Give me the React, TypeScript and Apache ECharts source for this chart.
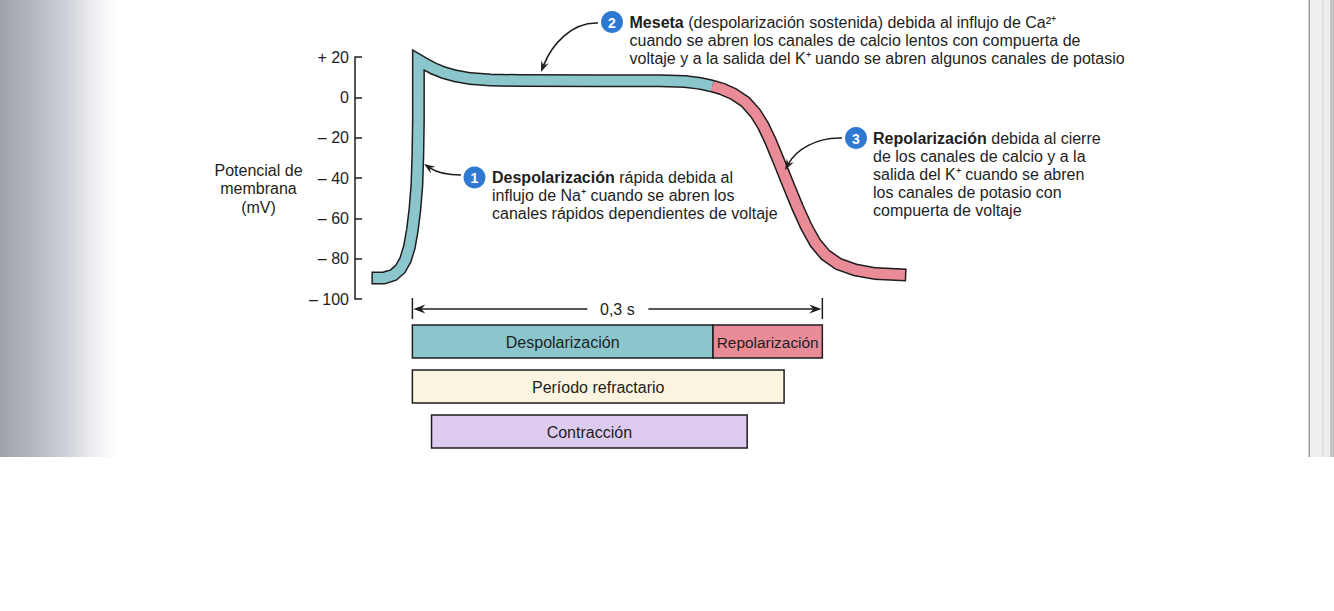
import React, { useEffect, useRef } from "react";
import * as echarts from "echarts";

const FONT = "'Liberation Sans', Arial, Helvetica, sans-serif";

// Y axis ticks (mV)
const yTickValues = [20, 0, -20, -40, -60, -80, -100];
const yTickLabels = ["+ 20", "0", "– 20", "– 40", "– 60", "– 80", "– 100"];
const yAxisTitle = ["Potencial de", "membrana", "(mV)"];

// Action potential curve (time in s, membrane potential in mV)
const curveTime = [
  -0.03, -0.0208, -0.0139, -0.0088, -0.0051, -0.0022, 0.0, 0.0018, 0.0033, 0.004,
  0.0044, 0.0044, 0.0044, 0.0095, 0.0154, 0.0227, 0.0315, 0.0424, 0.0571, 0.079,
  0.1372, 0.1811, 0.1994, 0.2107, 0.2195, 0.2268, 0.2349, 0.2437, 0.251, 0.2568,
  0.262, 0.2678, 0.2751, 0.2817, 0.2883, 0.2949, 0.3022, 0.3117, 0.3241, 0.3388, 0.3615,
];
const curveMv = [
  -89.6, -89.6, -88.1, -85.1, -80.6, -74.2, -65.7, -55.8, -43.4, -28.6,
  -11.2, 3.6, 18.5, 16.5, 14.3, 12.3, 10.6, 9.3, 8.6, 8.3,
  8.2, 8.2, 7.8, 6.9, 5.6, 4.1, 1.7, -2.3, -7.8, -14.2,
  -21.6, -31.1, -43.4, -54.3, -64.2, -72.2, -78.1, -82.6, -85.6, -87.4, -88.1,
];
const repolStartIndex = 24;

// Phase bars (time spans in s)
const phaseNames = ["Despolarización", "Repolarización", "Período refractario", "Contracción"];
const phaseStart = [0, 0.22, 0, 0.014];
const phaseEnd = [0.22, 0.3, 0.272, 0.245];
const phaseRow = [0, 0, 1, 2];
const phaseRows = ["potencial", "refractario", "contraccion"];

// Duration span
const spanStart = 0;
const spanEnd = 0.3;
const spanLabel = "0,3 s";

// Annotations
const note1 = [
  "{b|Despolarización} rápida debida al",
  "influjo de Na⁺ cuando se abren los",
  "canales rápidos dependientes de voltaje",
];
const note2 = [
  "{b|Meseta} (despolarización sostenida) debida al influjo de Ca²⁺",
  "cuando se abren los canales de calcio lentos con compuerta de",
  "voltaje y a la salida del K⁺ uando se abren algunos canales de potasio",
];
const note3 = [
  "{b|Repolarización} debida al cierre",
  "de los canales de calcio y a la",
  "salida del K⁺ cuando se abren",
  "los canales de potasio con",
  "compuerta de voltaje",
];

const TEAL = "#8cc6cd";
const PINK = "#e98c98";
const CREAM = "#fbf4e0";
const LAVENDER = "#dccbee";
const BLUE = "#2f79d2";
const INK = "#1e1e1e";
const phaseColors = [TEAL, PINK, CREAM, LAVENDER];

function textLines(lines: string[], x: number, y0: number, dy: number) {
  return lines.map((t, i) => ({
    type: "text",
    z: 10,
    silent: true,
    style: {
      text: t,
      x,
      y: y0 + i * dy,
      fontSize: 16,
      fontFamily: FONT,
      fill: INK,
      verticalAlign: "middle",
      align: "left",
      rich: {
        b: { fontWeight: "bold", fontSize: 16, fontFamily: FONT, fill: INK },
      },
    },
  }));
}

function badge(n: string, cx: number, cy: number) {
  return [
    { type: "circle", z: 11, silent: true, shape: { cx, cy, r: 11 }, style: { fill: BLUE } },
    {
      type: "text",
      z: 12,
      silent: true,
      style: {
        text: n,
        x: cx,
        y: cy + 0.5,
        align: "center",
        verticalAlign: "middle",
        fontSize: 14,
        fontWeight: "bold",
        fontFamily: FONT,
        fill: "#ffffff",
      },
    },
  ];
}

function arrow(p0: number[], c1: number[], c2: number[], p3: number[]) {
  const dx = p3[0] - c2[0];
  const dy = p3[1] - c2[1];
  const L = Math.hypot(dx, dy);
  const ux = dx / L;
  const uy = dy / L;
  const px = -uy;
  const py = ux;
  const len = 11;
  const half = 4;
  const bx = p3[0] - ux * len;
  const by = p3[1] - uy * len;
  const nx = p3[0] - ux * 7;
  const ny = p3[1] - uy * 7;
  return [
    {
      type: "bezierCurve",
      z: 9,
      silent: true,
      shape: { x1: p0[0], y1: p0[1], cpx1: c1[0], cpy1: c1[1], cpx2: c2[0], cpy2: c2[1], x2: nx, y2: ny },
      style: { stroke: INK, lineWidth: 1.6, fill: "none" },
    },
    {
      type: "polygon",
      z: 9,
      silent: true,
      shape: { points: [p3, [bx + px * half, by + py * half], [nx, ny], [bx - px * half, by - py * half]] },
      style: { fill: INK },
    },
  ];
}

export default function App() {
  const ref = useRef<HTMLDivElement>(null);

  useEffect(() => {
    if (!ref.current) return;
    const chart = echarts.init(ref.current, null, { renderer: "svg" });

    const inset = (a: number[], b: number[], d: number) => {
      const dx = b[0] - a[0];
      const dy = b[1] - a[1];
      const L = Math.hypot(dx, dy) || 1;
      return [a[0] + (dx / L) * d, a[1] + (dy / L) * d];
    };

    const graphics: any[] = [
      {
        type: "rect",
        z: 0,
        silent: true,
        shape: { x: 0, y: 0, width: 118, height: 457 },
        style: {
          fill: {
            type: "linear",
            x: 0,
            y: 0,
            x2: 1,
            y2: 0,
            colorStops: [
              { offset: 0, color: "#9ea3ab" },
              { offset: 0.3, color: "#b4b8bf" },
              { offset: 0.55, color: "#cdd0d6" },
              { offset: 0.72, color: "#e4e6eb" },
              { offset: 0.88, color: "#f6f7f9" },
              { offset: 1, color: "#ffffff" },
            ],
          },
        },
      },
      { type: "rect", z: 0, silent: true, shape: { x: 1309, y: 0, width: 25, height: 457 }, style: { fill: "#eeeeee" } },
      { type: "rect", z: 0, silent: true, shape: { x: 1308.5, y: 0, width: 1.5, height: 457 }, style: { fill: "#9c9c9c" } },
      { type: "rect", z: 0, silent: true, shape: { x: 1322.5, y: 0, width: 1, height: 457 }, style: { fill: "#d6d6d6" } },
      { type: "rect", z: 0, silent: true, shape: { x: 1330, y: 0, width: 4, height: 457 }, style: { fill: "#c4c4c4" } },
      ...yAxisTitle.map((t, i) => ({
        type: "text",
        z: 10,
        silent: true,
        style: {
          text: t,
          x: 258.5,
          y: 170 + i * 18.5,
          align: "center",
          verticalAlign: "middle",
          fontSize: 16,
          fontFamily: FONT,
          fill: INK,
        },
      })),
      ...textLines(note1, 492, 177.5, 18.2),
      ...textLines(note2, 629.5, 22, 18),
      ...textLines(note3, 873, 138, 18.2),
      ...badge("1", 474.5, 177.5),
      ...badge("2", 612, 22),
      ...badge("3", 856, 138),
      ...arrow([461, 175], [446, 175], [436, 172], [424, 164]),
      ...arrow([598, 23], [572, 22], [552, 44], [541, 72]),
      ...arrow([842, 138], [816, 137], [796, 150], [785, 170]),
    ];

    chart.setOption({
      animation: false,
      backgroundColor: "#ffffff",
      grid: [
        { left: 355, top: 57, width: 604, height: 242 },
        { left: 355, top: 319, width: 604, height: 135 },
      ],
      xAxis: [
        { gridIndex: 0, type: "value", min: -0.042, max: 0.4, show: false },
        { gridIndex: 1, type: "value", min: -0.042, max: 0.4, show: false },
      ],
      yAxis: [
        {
          gridIndex: 0,
          type: "value",
          min: -100,
          max: 20,
          interval: 20,
          axisLine: { show: true, onZero: false, lineStyle: { color: INK, width: 1.5 } },
          axisTick: { show: true, inside: true, length: 7, lineStyle: { color: INK, width: 1.5 } },
          axisLabel: {
            color: INK,
            fontSize: 16,
            fontFamily: FONT,
            margin: 6,
            formatter: (v: number) => {
              const i = yTickValues.indexOf(v);
              return i >= 0 ? yTickLabels[i] : "";
            },
          },
          splitLine: { show: false },
        },
        { gridIndex: 1, type: "category", data: phaseRows, inverse: true, show: false },
      ],
      graphic: graphics,
      series: [
        {
          type: "custom",
          xAxisIndex: 0,
          yAxisIndex: 0,
          silent: true,
          z: 3,
          data: [[0, 0]],
          renderItem: (params: any, api: any) => {
            if (params.dataIndex !== 0) return null;
            const pts = curveTime.map((t, i) => api.coord([t, curveMv[i]]));
            const teal = pts.slice(0, repolStartIndex + 1);
            const pink = pts.slice(repolStartIndex);
            teal[0] = inset(teal[0], teal[1], 1.5);
            pink[pink.length - 1] = inset(pink[pink.length - 1], pink[pink.length - 2], 1.5);
            const base = { fill: "none", lineJoin: "miter", lineCap: "butt", miterLimit: 10 };
            return {
              type: "group",
              children: [
                { type: "polyline", shape: { points: pts }, style: { ...base, stroke: INK, lineWidth: 13 } },
                { type: "polyline", shape: { points: teal }, style: { ...base, stroke: TEAL, lineWidth: 10 } },
                { type: "polyline", shape: { points: pink }, style: { ...base, stroke: PINK, lineWidth: 10 } },
              ],
            };
          },
        },
        {
          type: "custom",
          xAxisIndex: 1,
          yAxisIndex: 1,
          silent: true,
          z: 3,
          encode: { x: [0, 1], y: 2 },
          data: phaseNames.map((_, i) => [phaseStart[i], phaseEnd[i], phaseRow[i]]),
          renderItem: (params: any, api: any) => {
            const i = params.dataIndex;
            const row = api.value(2);
            const a = api.coord([api.value(0), row]);
            const b = api.coord([api.value(1), row]);
            const h = api.size([0, 1])[1] * 0.73;
            const w = b[0] - a[0];
            const name = phaseNames[i];
            const est = name.length * 7.8;
            const fs = est > w - 4 ? (16 * (w - 4)) / est : 16;
            return {
              type: "group",
              children: [
                {
                  type: "rect",
                  shape: { x: a[0], y: a[1] - h / 2, width: w, height: h },
                  style: { fill: phaseColors[i], stroke: INK, lineWidth: 1.5 },
                },
                {
                  type: "text",
                  style: {
                    text: name,
                    x: a[0] + w / 2,
                    y: a[1] + 0.5,
                    align: "center",
                    verticalAlign: "middle",
                    fontSize: fs,
                    fontFamily: FONT,
                    fill: INK,
                  },
                },
              ],
            };
          },
        },
        {
          type: "custom",
          xAxisIndex: 1,
          yAxisIndex: 1,
          silent: true,
          z: 3,
          encode: { x: [0, 1], y: 2 },
          data: [[spanStart, spanEnd, 0]],
          renderItem: (params: any, api: any) => {
            const a = api.coord([api.value(0), 0]);
            const b = api.coord([api.value(1), 0]);
            const y = params.coordSys.y - 10;
            const x0 = a[0];
            const x1 = b[0];
            const mid = (x0 + x1) / 2;
            const ls = { stroke: INK, lineWidth: 1.5 };
            return {
              type: "group",
              children: [
                { type: "line", shape: { x1: x0 + 6, y1: y, x2: mid - 30, y2: y }, style: ls },
                { type: "line", shape: { x1: mid + 31, y1: y, x2: x1 - 6, y2: y }, style: ls },
                { type: "line", shape: { x1: x0, y1: y - 11, x2: x0, y2: y + 10 }, style: ls },
                { type: "line", shape: { x1: x1, y1: y - 11, x2: x1, y2: y + 10 }, style: ls },
                {
                  type: "polygon",
                  shape: { points: [[x0 + 1, y], [x0 + 13, y - 4.5], [x0 + 9, y], [x0 + 13, y + 4.5]] },
                  style: { fill: INK },
                },
                {
                  type: "polygon",
                  shape: { points: [[x1 - 1, y], [x1 - 13, y - 4.5], [x1 - 9, y], [x1 - 13, y + 4.5]] },
                  style: { fill: INK },
                },
                {
                  type: "text",
                  style: {
                    text: spanLabel,
                    x: mid,
                    y: y,
                    align: "center",
                    verticalAlign: "middle",
                    fontSize: 16,
                    fontFamily: FONT,
                    fill: INK,
                  },
                },
              ],
            };
          },
        },
      ],
    });

    return () => {
      chart.dispose();
    };
  }, []);

  return (
    <div
      ref={ref}
      style={{ position: "absolute", left: 0, top: 0, width: 1334, height: 611 }}
    />
  );
}
